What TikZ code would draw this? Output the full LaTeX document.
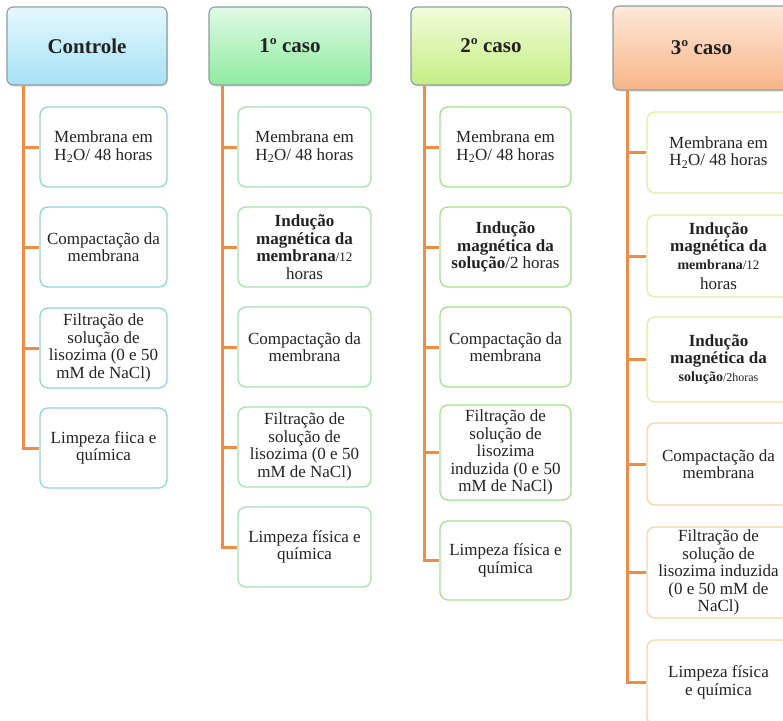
\documentclass[tikz,border=0pt]{standalone}
\usepackage{fontspec}
\setmainfont{Liberation Serif}
\usetikzlibrary{shadows}
\definecolor{linkor}{HTML}{F08C45}
\definecolor{hdrgray}{HTML}{8E9C9F}
\definecolor{txt}{HTML}{222222}
\definecolor{ctrltop}{HTML}{E4F8FD}
\definecolor{ctrlbot}{HTML}{A6E1F5}
\definecolor{ctrlkid}{HTML}{93D3D8}
\definecolor{onetop}{HTML}{DFFAE4}
\definecolor{onebot}{HTML}{8EEBA0}
\definecolor{onekid}{HTML}{A3E4AB}
\definecolor{twotop}{HTML}{F3FBDA}
\definecolor{twobot}{HTML}{C4EE84}
\definecolor{twokid}{HTML}{A4E18E}
\definecolor{thrtop}{HTML}{FDE8D9}
\definecolor{thrbot}{HTML}{F8B587}
\definecolor{thrkid}{HTML}{E8EB9C}
\definecolor{thrkidb}{HTML}{F5D6A4}
\tikzset{
  hdr/.style 2 args={draw=hdrgray, rounded corners=6pt, line width=1.1pt,
    top color=#1, bottom color=#2, text=txt,
    font=\fontsize{21}{24}\selectfont\bfseries,
    drop shadow={opacity=0.25, shadow xshift=1pt, shadow yshift=-1.5pt}},
  kid/.style 2 args={draw=#1, minimum width=#2, rounded corners=8pt, line width=1.3pt,
    fill=white, align=center, text=txt, inner sep=0pt,
    font=\fontsize{17}{17.5}\selectfont},
  branch/.style={draw=linkor, line width=3pt},
}
\newcommand{\hto}{H\textsubscript{2}O/ 48 horas}
\begin{document}
\begin{tikzpicture}[x=1pt, y=-1pt]
\useasboundingbox (0,0) rectangle (783,720);
\clip (0,0) rectangle (783,720);

\node[hdr={ctrltop}{ctrlbot}, minimum width=160pt, minimum height=78pt] (ctrl) at (87,46) {Controle};
\node[kid={ctrlkid}{127pt}, minimum height=80pt] (c0a) at (103.5,147) {Membrana em\\\hto};
\node[kid={ctrlkid}{127pt}, minimum height=80pt] (c0b) at (103.5,247) {Compactação da\\membrana};
\node[kid={ctrlkid}{127pt}, minimum height=80pt] (c0c) at (103.5,348) {Filtração de\\solução de\\lisozima (0 e 50\\mM de NaCl)};
\node[kid={ctrlkid}{127pt}, minimum height=80pt] (c0d) at (103.5,448) {Limpeza fiica e\\química};
\foreach \k in {a,b,c,d}
  \draw[branch] ([xshift=17pt]ctrl.south west) |- (c0\k.west);

\node[hdr={onetop}{onebot}, minimum width=162pt, minimum height=78pt] (one) at (290,46) {1º caso};
\node[kid={onekid}{133pt}, minimum height=80pt] (c1a) at (304.5,147) {Membrana em\\\hto};
\node[kid={onekid}{133pt}, minimum height=80pt] (c1b) at (304.5,247) {\textbf{Indução}\\\textbf{magnética da}\\\textbf{membrana}{\fontsize{13}{17}\selectfont/12}\\horas};
\node[kid={onekid}{133pt}, minimum height=80pt] (c1c) at (304.5,347) {Compactação da\\membrana};
\node[kid={onekid}{133pt}, minimum height=80pt] (c1d) at (304.5,447) {Filtração de\\solução de\\lisozima (0 e 50\\mM de NaCl)};
\node[kid={onekid}{133pt}, minimum height=80pt] (c1e) at (304.5,547) {Limpeza física e\\química};
\foreach \k in {a,b,c,d,e}
  \draw[branch] ([xshift=14pt]one.south west) |- (c1\k.west);

\node[hdr={twotop}{twobot}, minimum width=160pt, minimum height=78pt] (two) at (491,46) {2º caso};
\node[kid={twokid}{131pt}, minimum height=80pt] (c2a) at (505.5,147) {Membrana em\\\hto};
\node[kid={twokid}{131pt}, minimum height=80pt] (c2b) at (505.5,247) {\textbf{Indução}\\\textbf{magnética da}\\\textbf{solução}/2 horas};
\node[kid={twokid}{131pt}, minimum height=80pt] (c2c) at (505.5,347) {Compactação da\\membrana};
\node[kid={twokid}{131pt}, minimum height=95pt] (c2d) at (505.5,452.5) {Filtração de\\solução de\\lisozima\\induzida (0 e 50\\mM de NaCl)};
\node[kid={twokid}{131pt}, minimum height=79pt] (c2e) at (505.5,560.5) {Limpeza física e\\química};
\foreach \k in {a,b,c,d,e}
  \draw[branch] ([xshift=14pt]two.south west) |- (c2\k.west);

\node[hdr={thrtop}{thrbot}, minimum width=177pt, minimum height=84pt] (thr) at (701.5,48) {3º caso};
\node[kid={thrkid}{143pt}, minimum height=81pt] (c3a) at (718.5,152.5) {Membrana em\\\hto};
\node[kid={thrkid}{143pt}, minimum height=82pt] (c3b) at (718.5,256) {\textbf{Indução}\\\textbf{magnética da}\\{\fontsize{14}{17}\selectfont\bfseries membrana}{\fontsize{13}{17}\selectfont/12}\\[3pt]horas};
\node[kid={thrkid}{143pt}, minimum height=85pt] (c3c) at (718.5,359.5) {\textbf{Indução}\\\textbf{magnética da}\\{\fontsize{14}{17}\selectfont\bfseries solução}{\fontsize{12}{17}\selectfont/2horas}};
\node[kid={thrkidb}{143pt}, minimum height=82pt] (c3d) at (718.5,464) {Compactação da\\membrana};
\node[kid={thrkidb}{143pt}, minimum height=91pt] (c3e) at (718.5,572.5) {Filtração de\\solução de\\lisozima induzida\\(0 e 50 mM de\\NaCl)};
\node[kid={thrkidb}{143pt}, minimum height=85pt] (c3f) at (718.5,682.5) {Limpeza física\\e química};
\foreach \k in {a,b,c,d,e,f}
  \draw[branch] ([xshift=15pt]thr.south west) |- (c3\k.west);
\end{tikzpicture}
\end{document}
